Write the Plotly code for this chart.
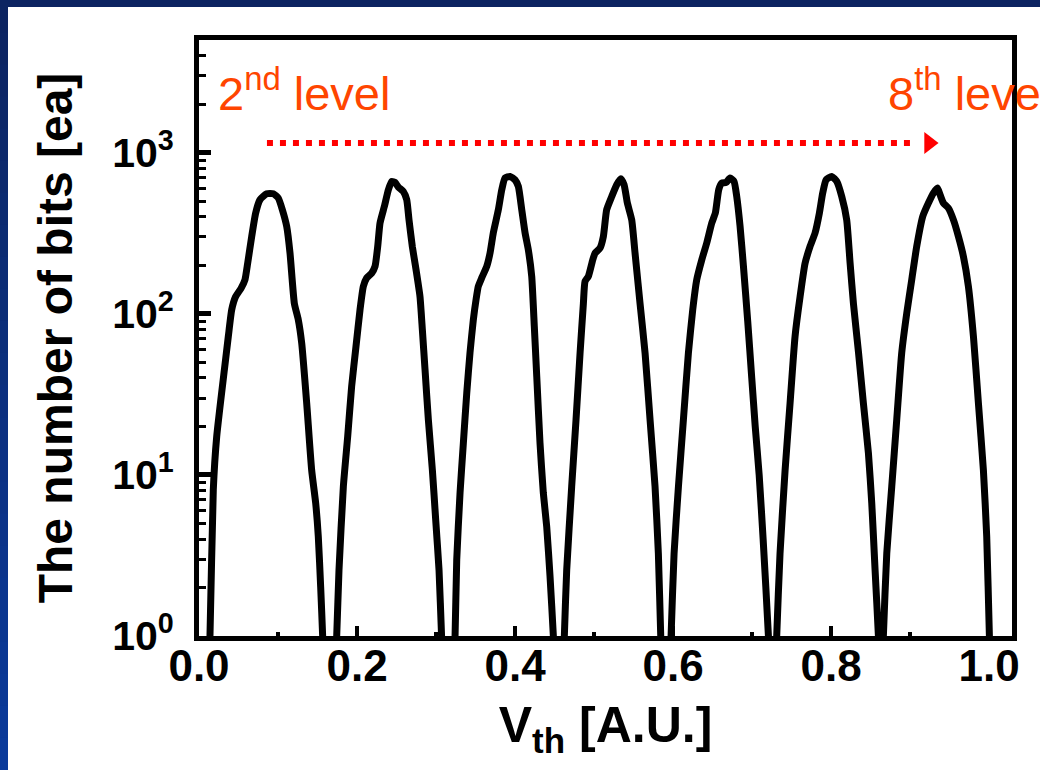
import plotly.graph_objects as go

# ---------------- data ----------------
# Each programmed level: threshold voltage [A.U.] and number of bits [ea]
vth_L2 = [0.012, 0.0139, 0.0181, 0.0224, 0.0321, 0.0371, 0.0414, 0.0464, 0.0532, 0.0582,
          0.0616, 0.0667, 0.0717, 0.0772, 0.0857, 0.0941, 0.1004, 0.1055, 0.111, 0.1152,
          0.1207, 0.1257, 0.130, 0.1363, 0.1426, 0.1477, 0.151, 0.154, 0.1565, 0.158]
bits_L2 = [0.6, 1.0, 8.1, 17.3, 44.9, 72.3, 106, 128, 144, 163,
           206, 302, 422, 511, 556, 556, 523, 443, 349, 238,
           116, 91.8, 65.8, 27.9, 10.7, 6.67, 4.14, 2.02, 1.0, 0.6]

vth_L3 = [0.172, 0.1743, 0.1772, 0.1827, 0.1882, 0.1932, 0.1987, 0.2038, 0.208, 0.2122,
          0.2186, 0.2228, 0.2262, 0.2291, 0.2346, 0.2397, 0.2439, 0.2481, 0.2523, 0.2586,
          0.2629, 0.2658, 0.270, 0.2747, 0.2797, 0.2827, 0.2861, 0.2903, 0.2954, 0.2996,
          0.3038, 0.307, 0.309]
bits_L3 = [0.6, 1.0, 2.57, 8.46, 17.3, 35.4, 62.7, 106, 148, 167,
           179, 197, 262, 366, 464, 589, 664, 654, 612, 575,
           511, 383, 262, 188, 128, 79.6, 44.9, 22, 10.7, 5.25,
           2.57, 1.0, 0.6]

vth_L4 = [0.322, 0.3241, 0.3262, 0.3304, 0.3346, 0.3389, 0.3430, 0.3472, 0.3506, 0.3535,
          0.3578, 0.3642, 0.3684, 0.3725, 0.3789, 0.3832, 0.3873, 0.3937, 0.400, 0.4042,
          0.4085, 0.4127, 0.4168, 0.4211, 0.4244, 0.4275, 0.4316, 0.4358, 0.4401, 0.4443,
          0.4485, 0.450]
bits_L4 = [0.6, 1.0, 2.97, 7.73, 15.8, 32.3, 57.3, 91.8, 122, 148,
           167, 197, 239, 318, 443, 589, 697, 713, 679, 618,
           443, 318, 250, 171, 83.4, 40.8, 15.8, 7.73, 4.77, 2.34,
           1.0, 0.6]

vth_L5 = [0.461, 0.4624, 0.4654, 0.4717, 0.4772, 0.4823, 0.4865, 0.4886, 0.4928, 0.4983,
          0.5013, 0.5076, 0.5118, 0.516, 0.5224, 0.5287, 0.5338, 0.538, 0.5422, 0.5477,
          0.5519, 0.5582, 0.5646, 0.5709, 0.5772, 0.5814, 0.5844, 0.586]
bits_L5 = [0.6, 1.0, 2.57, 8.46, 22, 57, 116, 159, 171, 216,
           238, 256, 302, 443, 535, 633, 690, 633, 487, 383,
           238, 116, 57, 22, 8.46, 3.26, 1.0, 0.6]

vth_L6 = [0.596, 0.5975, 0.6013, 0.6068, 0.6131, 0.6194, 0.6249, 0.630, 0.6363, 0.6426,
          0.649, 0.6536, 0.6578, 0.6616, 0.6671, 0.6722, 0.6772, 0.6806, 0.6848, 0.6890,
          0.6945, 0.6996, 0.7040, 0.7090, 0.7140, 0.7207, 0.722]
bits_L6 = [0.6, 1.0, 3.26, 8.46, 22, 57, 106, 163, 216, 275,
           366, 424, 589, 648, 654, 696, 664, 535, 350, 200,
           90, 40, 20, 10, 4, 1.0, 0.6]

vth_L7 = [0.730, 0.7312, 0.7354, 0.7418, 0.7481, 0.7544, 0.7608, 0.7671, 0.7734, 0.7797,
          0.7852, 0.7894, 0.7937, 0.8008, 0.8072, 0.8135, 0.8198, 0.8241, 0.8283, 0.8348,
          0.8409, 0.8473, 0.8515, 0.8557, 0.8599, 0.861]
bits_L7 = [0.6, 1.0, 3.26, 10.7, 27.9, 72.3, 128, 206, 262, 317,
           422, 562, 679, 713, 664, 535, 383, 206, 116, 57,
           27.9, 13.6, 6.67, 2.57, 1.0, 0.6]

vth_L8 = [0.865, 0.8662, 0.8705, 0.8768, 0.8831, 0.8894, 0.8958, 0.9021, 0.9084, 0.916,
          0.9232, 0.9295, 0.9346, 0.938, 0.9422, 0.9485, 0.9549, 0.9612, 0.9675, 0.9738,
          0.9802, 0.9865, 0.9928, 0.997, 1.0004, 1.002]
bits_L8 = [0.6, 1.0, 3.26, 8.46, 22, 57, 101, 163, 262, 402,
           487, 562, 604, 548, 487, 453, 383, 302, 227, 148,
           72.3, 27.9, 10.7, 4.14, 1.0, 0.6]

level_vth = [vth_L2, vth_L3, vth_L4, vth_L5, vth_L6, vth_L7, vth_L8]
level_bits = [bits_L2, bits_L3, bits_L4, bits_L5, bits_L6, bits_L7, bits_L8]

# arrow "2nd level -> 8th level"
arrow_vth = [0.086, 0.906]
arrow_bits = [1150, 1150]
arrow_head_vth = [0.924]
arrow_head_bits = [1150]

x_range = [0, 1.029]
y_range_log = [0, 3.7]
y_tickvals = [1, 10, 100, 1000]
y_ticktext = ["10<sup>0</sup>", "10<sup>1</sup>", "10<sup>2</sup>", "10<sup>3</sup>"]

label_start = "2<sup>nd</sup> level"
label_end = "8<sup>th</sup> level"

# ---------------- figure ----------------
W, H = 1040, 770
ML, MR, MT, MB = 199, 28, 40, 134
PW, PH = W - ML - MR, H - MT - MB

all_x, all_y = [], []
for xs, ys in zip(level_vth, level_bits):
    all_x += xs
    all_y += ys

fig = go.Figure()
fig.add_trace(go.Scatter(x=all_x, y=all_y, mode="lines",
                         line=dict(color="black", width=7, shape="spline", smoothing=0.5),
                         hoverinfo="skip"))
fig.add_trace(go.Scatter(x=arrow_vth, y=arrow_bits, mode="lines",
                         line=dict(color="#FF0000", width=6, dash="6px,7px"),
                         hoverinfo="skip"))
fig.add_trace(go.Scatter(x=arrow_head_vth, y=arrow_head_bits, mode="markers",
                         marker=dict(symbol="triangle-right", size=19, color="#FF0000",
                                     line=dict(width=0)),
                         hoverinfo="skip"))

ann_font = dict(family="Liberation Sans, Arial, sans-serif", size=47, color="#FF4500")
fig.add_annotation(x=0.022, y=3.39, xref="x", yref="y", text=label_start, showarrow=False,
                   xanchor="left", yanchor="middle", font=ann_font)
fig.add_annotation(x=0.869, y=3.39, xref="x", yref="y", text=label_end, showarrow=False,
                   xanchor="left", yanchor="middle", font=ann_font)

# slide-style frame: dark navy top bar and blue left bar (gradient)
def px2x(px):
    return (px - ML) / PW

def py2y(py):
    return (H - MB - py) / PH

shapes = [dict(type="rect", xref="paper", yref="paper",
               x0=px2x(0), x1=px2x(W), y0=py2y(7), y1=py2y(0),
               fillcolor="#0c2461", line=dict(width=0), layer="below")]
nb = 24
c0 = (12, 36, 97)
c1 = (10, 58, 154)
for i in range(nb):
    t = i / (nb - 1)
    col = "rgb(%d,%d,%d)" % tuple(round(a + (b - a) * t) for a, b in zip(c0, c1))
    shapes.append(dict(type="rect", xref="paper", yref="paper",
                       x0=px2x(0), x1=px2x(8),
                       y0=py2y(H * (i + 1) / nb + 1), y1=py2y(H * i / nb),
                       fillcolor=col, line=dict(width=0), layer="below"))

xtick_font = dict(family="Liberation Sans, Arial, sans-serif", size=44, color="black", weight="bold")
ytick_font = dict(family="Liberation Sans, Arial, sans-serif", size=41, color="black", weight="bold")
ytitle_font = dict(family="Liberation Sans, Arial, sans-serif", size=48, color="black", weight="bold")
xtitle_font = dict(family="Liberation Sans, Arial, sans-serif", size=50, color="black", weight="bold")

fig.update_layout(
    width=W, height=H,
    margin=dict(l=ML, r=MR, t=MT, b=MB, pad=0),
    paper_bgcolor="white", plot_bgcolor="white",
    showlegend=False,
    shapes=shapes,
    xaxis=dict(range=x_range, showgrid=False, zeroline=False,
               showline=True, linecolor="black", linewidth=5, mirror=True,
               ticks="inside", ticklen=10, tickwidth=4, tickcolor="black",
               tick0=0, dtick=0.2, tickformat=".1f",
               minor=dict(ticks="inside", ticklen=4, tickwidth=4, tickcolor="black",
                          dtick=0.1, showgrid=False),
               tickfont=xtick_font, ticklabelstandoff=-13,
               title=dict(text="V<sub>th</sub> [A.U.]", font=xtitle_font, standoff=20)),
    yaxis=dict(type="log", range=y_range_log, showgrid=False, zeroline=False,
               showline=True, linecolor="black", linewidth=5, mirror=True,
               ticks="inside", ticklen=12, tickwidth=5, tickcolor="black",
               tickmode="array", tickvals=y_tickvals, ticktext=y_ticktext,
               minor=dict(ticks="inside", ticklen=7, tickwidth=3, tickcolor="black",
                          dtick="D1", showgrid=False),
               tickfont=ytick_font, ticklabelstandoff=12,
               title=dict(text="The number of bits [ea]", font=ytitle_font, standoff=26)),
)

fig.write_html("out.html")
